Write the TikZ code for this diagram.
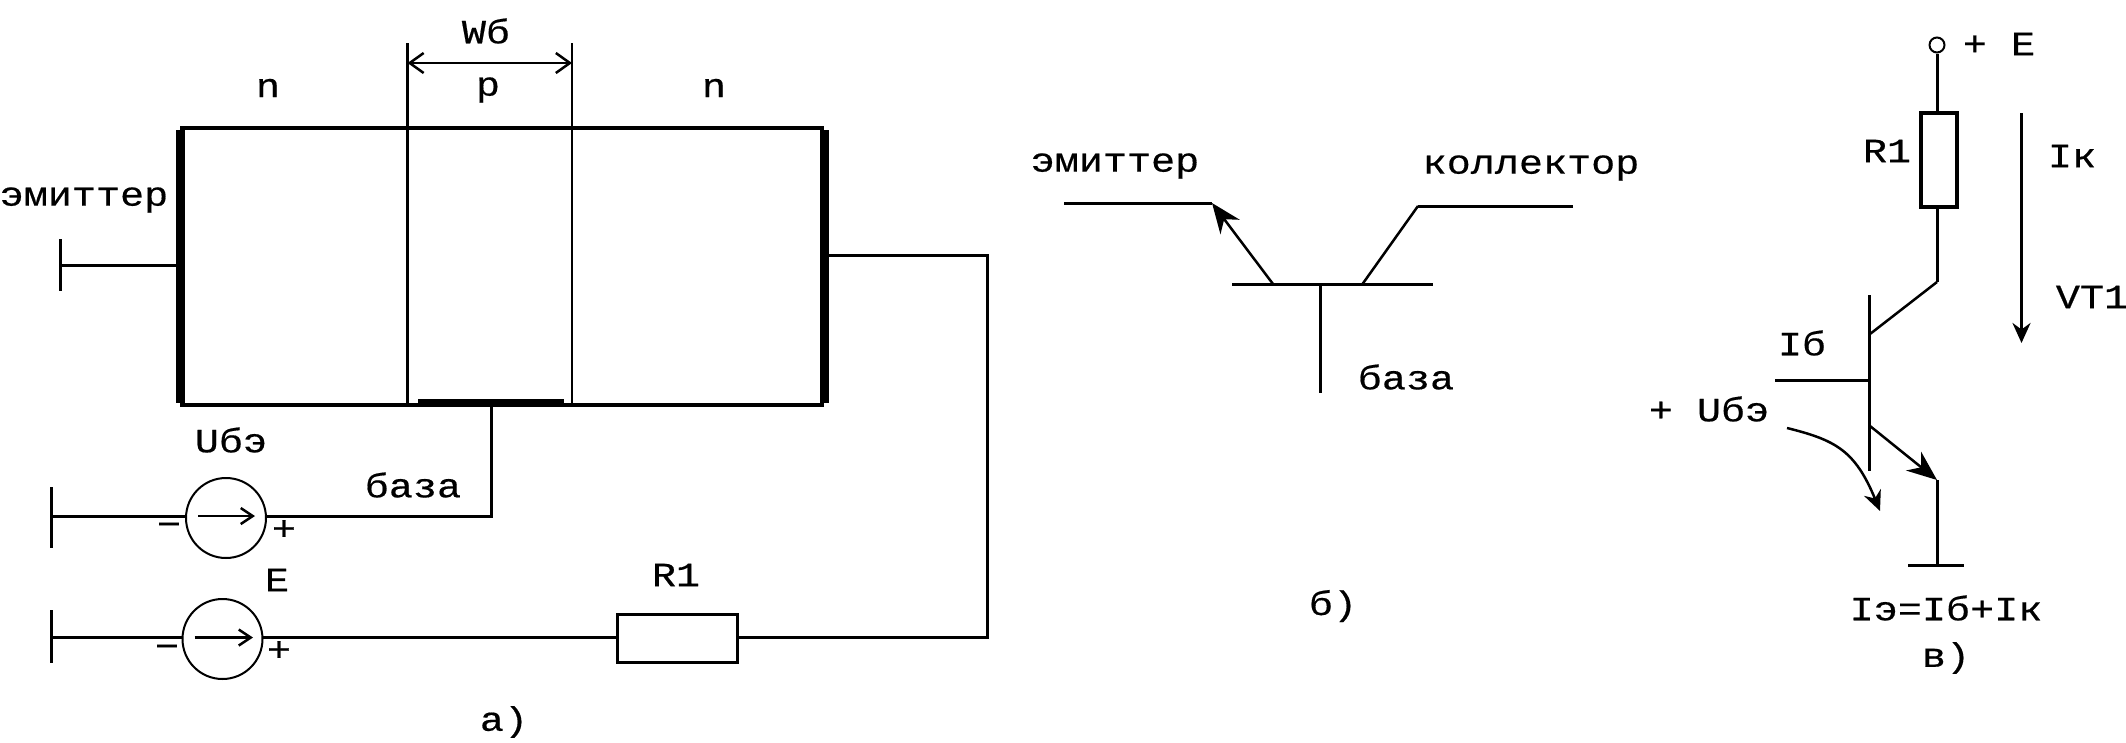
\documentclass[tikz,border=0pt]{standalone}
\usepackage{fontspec}
\usetikzlibrary{arrows.meta}
\newfontfamily\ff[FakeStretch=1.18,FakeBold=0.5]{Liberation Mono}
\tikzset{
 lbl/.style={font=\ff\fontsize{34}{34}\selectfont,inner sep=0pt,outer sep=0pt,text=black},
 wire/.style={line width=3pt,line cap=butt,line join=miter},
 thin wire/.style={line width=2.5pt},
 heavy/.style={line width=9pt},
 srcnode/.style={circle,draw,line width=2pt,minimum size=80pt,inner sep=0pt,outer sep=0pt},
 resnode/.style={rectangle,draw,line width=3pt,inner sep=0pt,outer sep=0pt},
 openhead/.style={-{Straight Barb[length=12pt,width=16pt,line width=2.5pt]}},
 twohead/.style={{Straight Barb[length=14pt,width=20pt,line width=2.5pt]}-{Straight Barb[length=14pt,width=20pt,line width=2.5pt]}},
 fillhead/.style={-{Stealth[length=30pt,width=24pt]}},
}
\begin{document}
\begin{tikzpicture}[x=1pt,y=-1pt]
\path[use as bounding box,fill=white] (0,0) rectangle (2126,742);
% --- a) crystal
\coordinate (tl) at (180,128); \coordinate (tr) at (824,128);
\coordinate (bl) at (180,405); \coordinate (br) at (824,405);
\coordinate (j1t) at (407.5,43); \coordinate (j1b) at (407.5,405);
\coordinate (j2t) at (572,43); \coordinate (j2b) at (572,405);
\coordinate (w1) at (407.5,63); \coordinate (w2) at (572,63);
\draw[line width=4pt] (tl) -- (tr) (bl) -- (br);
\draw[heavy] ([yshift=-2pt]tl) -- ([yshift=2pt]bl);
\draw[heavy] ([yshift=-2pt]tr) -- ([yshift=2pt]br);
\draw[thin wire] (j1t) -- (j1b);
\draw[thin wire] (j2t) -- (j2b);
\draw[thin wire,twohead] (w1) -- (w2);
\coordinate (bc1) at (418,402); \coordinate (bc2) at (564,402);
\draw[line width=6pt] (bc1) -- (bc2);
\node[lbl] (ws) at (486,31) {Wб};
\node[lbl] (n1) at (268,88) {n};
\node[lbl] (pp) at (488,90) {p};
\node[lbl] (n2) at (714,88) {n};
\node[lbl] (em1) at (84,200) {эмиттер};
% emitter lead
\coordinate (el) at (60,265); \coordinate (er) at (176,265);
\coordinate (et1) at (60,239); \coordinate (et2) at (60,291);
\draw[wire] (el) -- (er);
\draw[wire] (et1) -- (et2);
% U source
\node[srcnode] (su) at (226,518) {};
\coordinate (su1) at (198,516); \coordinate (su2) at (255,516);
\draw[thin wire,openhead] (su1) -- (su2);
\coordinate (ul) at (51,516); \coordinate (ut1) at (51,487); \coordinate (ut2) at (51,548);
\coordinate (uc) at (491,516); \coordinate (ub) at (491,405);
\draw[wire] (ul) -- (su.west |- ul);
\draw[wire] (su.east |- uc) -- (uc) -- (ub);
\draw[wire] (ut1) -- (ut2);
\node[lbl] (um) at (169,529) {−};
\node[lbl] (up) at (284,530) {+};
\node[lbl] (ubl) at (231,440) {Uбэ};
\node[lbl] (baz1) at (413,485) {база};
% E source
\node[srcnode] (se) at (222.5,639) {};
\coordinate (se1) at (194.5,637.5); \coordinate (se2) at (253,637.5);
\draw[thin wire,openhead] (se1) -- (se2);
\coordinate (vl) at (51,637.5); \coordinate (vt1) at (51,610); \coordinate (vt2) at (51,663);
\draw[wire] (vl) -- (se.west |- vl);
\draw[wire] (vt1) -- (vt2);
\node[resnode,minimum width=120pt,minimum height=47.5pt] (r1) at (677,638.5) {};
\draw[wire] (se.east |- vl) -- (r1.west |- vl);
\coordinate (cr) at (824,255.5); \coordinate (cc) at (987,255.5); \coordinate (cd) at (987,637.5);
\draw[wire] (cr) -- (cc) -- (cd) -- (r1.east |- cd);
\node[lbl] (em) at (167,651) {−};
\node[lbl] (ep) at (279,651) {+};
\node[lbl] (el2) at (277,580) {E};
\node[lbl] (r1l) at (676,575) {R1};
\node[lbl] (capa) at (504,722) {а)};
% --- b)
\node[lbl] (em2) at (1115,166) {эмиттер};
\node[lbl] (kol) at (1531,168) {коллектор};
\coordinate (a1) at (1064,203); \coordinate (a2) at (1212,203); \coordinate (a3) at (1273,284);
\coordinate (c1) at (1573,206); \coordinate (c2) at (1418,206); \coordinate (c3) at (1362.5,284);
\coordinate (b1) at (1232,284); \coordinate (b2) at (1433,284);
\coordinate (b3) at (1320,284); \coordinate (b4) at (1320,393);
\draw[wire] (a1) -- (a2);
\draw[thin wire,fillhead] (a3) -- (a2);
\draw[wire] (c1) -- (c2);
\draw[thin wire] (c2) -- (c3);
\draw[wire] (b1) -- (b2);
\draw[wire] (b3) -- (b4);
\node[lbl] (baz2) at (1406,377) {база};
\node[lbl] (capb) at (1333,606) {б)};
% --- c)
\node[circle,draw,line width=2pt,minimum size=15pt,inner sep=0pt] (term) at (1937,45) {};
\node[resnode,line width=4pt,minimum width=36pt,minimum height=94pt] (r2) at (1939,160) {};
\coordinate (r2t) at (1937,113); \coordinate (r2b) at (1937,207);
\coordinate (k1) at (1937,282); \coordinate (k2) at (1870,334);
\coordinate (bt) at (1869.5,295); \coordinate (bb) at (1869.5,471);
\coordinate (bi) at (1775,380); \coordinate (bj) at (1869.5,380);
\coordinate (e1) at (1870,426); \coordinate (e2) at (1937,480); \coordinate (e3) at (1937,565.5);
\coordinate (g1) at (1908,565.5); \coordinate (g2) at (1964,565.5);
\draw[wire] (term.south) -- (r2t);
\draw[wire] (r2b) -- (k1);
\draw[thin wire] (k1) -- (k2);
\draw[wire] (bt) -- (bb);
\draw[wire] (bi) -- (bj);
\draw[thin wire,fillhead] (e1) -- (e2);
\draw[wire] (e2) -- (e3);
\draw[wire] (g1) -- (g2);
\coordinate (ia) at (2021.5,113); \coordinate (ib) at (2021.5,343);
\draw[wire,-{Stealth[length=20pt,width=18pt]}] (ia) -- (ib);
\coordinate (ua) at (1787,428); \coordinate (ub2) at (1880,511);
\draw[thin wire,-{Stealth[length=20pt,width=18pt]}] (ua) .. controls (1835,440) and (1855,450) .. (ub2);
\node[lbl] (pe) at (1999,44) {+ E};
\node[lbl] (r2l) at (1887,151) {R1};
\node[lbl] (ik) at (2072,156) {Iк};
\node[lbl] (vt) at (2092,297) {VT1};
\node[lbl] (ib2) at (1802,343) {Iб};
\node[lbl] (ub3) at (1709,409) {+ Uбэ};
\node[lbl] (eq) at (1946,608) {Iэ=Iб+Iк};
\node[lbl] (capc) at (1946,658) {в)};
\end{tikzpicture}
\end{document}
